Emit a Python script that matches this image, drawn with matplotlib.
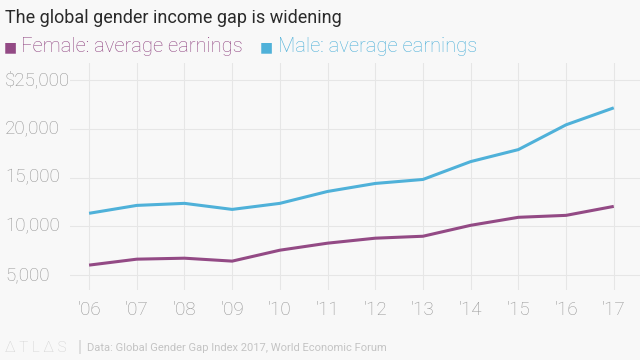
import matplotlib
matplotlib.use("Agg")
import matplotlib.pyplot as plt
import matplotlib.transforms as mtransforms

years = ["'06", "'07", "'08", "'09", "'10", "'11", "'12", "'13", "'14", "'15", "'16", "'17"]
female = [6020, 6630, 6730, 6430, 7550, 8270, 8780, 8980, 10100, 10920, 11120, 12040]
male = [11330, 12140, 12350, 11730, 12350, 13570, 14390, 14800, 16630, 17860, 20400, 22140]
yticks = [5000, 10000, 15000, 20000, 25000]
ytick_labels = ["5,000", "10,000", "15,000", "20,000", "$25,000"]

FEMALE_C = "#934a85"
MALE_C = "#4fb1d9"
BG = "#f8f8f8"
TICK_C = "#949494"

plt.rcParams["font.family"] = ["Roboto", "DejaVu Sans"]

fig = plt.figure(figsize=(6.4, 3.6), dpi=100, facecolor=BG)
ax = fig.add_axes([70 / 640, 1 - 290 / 360, 570 / 640, 227 / 360], facecolor=BG)

x = list(range(len(years)))
ax.plot(x, female, color=FEMALE_C, lw=2.2, solid_capstyle="butt", zorder=3)
ax.plot(x, male, color=MALE_C, lw=2.2, solid_capstyle="butt", zorder=3)

ax.set_xlim(-0.4, 11.55)
ax.set_ylim(3470, 26735)

for s in ax.spines.values():
    s.set_visible(False)
ax.tick_params(length=0)
ax.set_xticks(x)
ax.set_xticklabels(years, fontsize=13.5, color=TICK_C, fontweight="light")
ax.tick_params(axis="x", pad=8)
ax.set_yticks(yticks)
ax.set_yticklabels([])
for xi in x:
    ax.axvline(xi, color="#e6e6e6", lw=0.8, zorder=1)
for yv in yticks:
    ax.axhline(yv, color="#e6e6e6", lw=0.8, zorder=1)

trans = mtransforms.blended_transform_factory(fig.transFigure, ax.transData)
for yv, lab in zip(yticks, ytick_labels):
    ax.text(5 / 640, yv, lab, transform=trans, ha="left", va="center",
            fontsize=13.5, color=TICK_C, fontweight="light")

fig.text(5 / 640, 1 - 18 / 360, "The global gender income gap is widening",
         fontsize=13, color="#2a2a2a", ha="left", va="center")

fig.text(4 / 640, 1 - 47 / 360, "\u25a0", fontsize=10, color=FEMALE_C, ha="left", va="center")
fig.text(21 / 640, 1 - 47 / 360, "Female: average earnings", fontsize=14.5,
         color=FEMALE_C, ha="left", va="center", fontweight="light")
fig.text(260 / 640, 1 - 47 / 360, "\u25a0", fontsize=10, color=MALE_C, ha="left", va="center")
fig.text(278 / 640, 1 - 47 / 360, "Male: average earnings", fontsize=14.5,
         color=MALE_C, ha="left", va="center", fontweight="light")

fig.text(5 / 640, 1 - 348 / 360, "\u0394 T L \u0394 S", fontsize=11, color="#d0d0d0",
         ha="left", va="center", fontweight="light")
fig.text(78 / 640, 1 - 348 / 360, "|", fontsize=12, color="#d0d0d0", ha="left", va="center")
fig.text(87 / 640, 1 - 348 / 360, "Data: Global Gender Gap Index 2017, World Economic Forum",
         fontsize=8, color="#c4c4c4", ha="left", va="center")

fig.savefig("out.png", dpi=100, facecolor=BG)
